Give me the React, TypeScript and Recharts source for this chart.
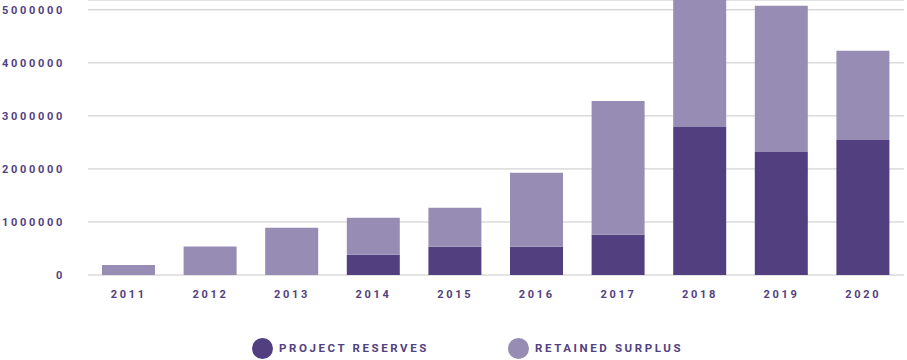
import React from 'react';
import { BarChart, Bar, XAxis, YAxis, CartesianGrid, Legend } from 'recharts';

const years = ['2011', '2012', '2013', '2014', '2015', '2016', '2017', '2018', '2019', '2020'];
const projectReserves = [0, 0, 0, 382000, 533000, 533000, 759000, 2790000, 2320000, 2547000];
const retainedSurplus = [190000, 535000, 892000, 697000, 734000, 1394000, 2524000, 2610000, 2755000, 1679000];
const yTicks = [0, 1000000, 2000000, 3000000, 4000000, 5000000];

const DARK = '#523f80';
const LIGHT = '#978db4';
const TEXT = '#524180';
const FONT = 'Roboto, "DejaVu Sans", sans-serif';

const data = years.map((y, i) => ({
  year: y,
  reserves: projectReserves[i],
  surplus: retainedSurplus[i],
}));

const LegendContent = (props: any) => {
  const payload = props.payload || [];
  return (
    <div style={{ display: 'flex', paddingLeft: 252, height: 22, alignItems: 'center' }}>
      {payload.map((p: any) => (
        <div key={p.value} style={{ width: 256, display: 'flex', alignItems: 'center' }}>
          <span
            style={{
              width: 21,
              height: 21,
              borderRadius: '50%',
              background: p.color,
              display: 'inline-block',
              marginRight: 6,
            }}
          />
          <span
            style={{
              fontFamily: FONT,
              fontWeight: 700,
              fontSize: 11.5,
              letterSpacing: 2.6,
              color: TEXT,
            }}
          >
            {p.value}
          </span>
        </div>
      ))}
    </div>
  );
};

export default function App() {
  return (
    <div style={{ position: 'absolute', left: 0, top: 0 }}>
      <BarChart
        width={907}
        height={360}
        data={data}
        margin={{ top: 0, right: 3, left: 0, bottom: 55 }}
      >
        <CartesianGrid vertical={false} stroke="#c8c8c8" strokeWidth={1} />
        <XAxis
          dataKey="year"
          axisLine={false}
          tickLine={false}
          tickMargin={9}
          height={30}
          tick={{ fill: TEXT, fontFamily: FONT, fontWeight: 700, fontSize: 11, letterSpacing: 2.7 }}
        />
        <YAxis
          width={88}
          domain={[0, 5185000]}
          allowDataOverflow
          ticks={yTicks}
          interval={0}
          axisLine={false}
          tickLine={false}
          tickMargin={17}
          tick={{ fill: TEXT, fontFamily: FONT, fontWeight: 700, fontSize: 11, letterSpacing: 2.7 }}
        />
        <Legend
          layout="horizontal"
          verticalAlign="middle"
          align="center"
          wrapperStyle={{ top: 337, left: 0, width: 907 }}
          content={<LegendContent />}
        />
        <Bar dataKey="reserves" name="PROJECT RESERVES" stackId="a" fill={DARK} barSize={53} isAnimationActive={false} />
        <Bar dataKey="surplus" name="RETAINED SURPLUS" stackId="a" fill={LIGHT} barSize={53} isAnimationActive={false} />
      </BarChart>
    </div>
  );
}
